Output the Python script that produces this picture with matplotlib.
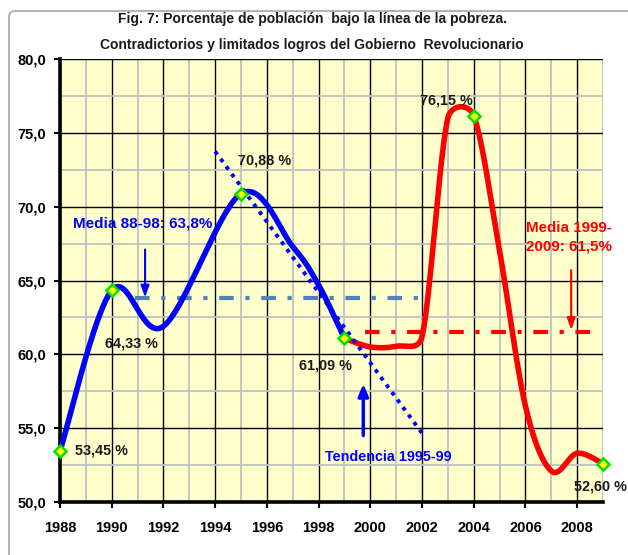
import numpy as np
import matplotlib
matplotlib.use('Agg')
import matplotlib.pyplot as plt
from matplotlib.ticker import MultipleLocator, FuncFormatter
from matplotlib.patches import FancyBboxPatch

plt.rcParams['font.family'] = ['Liberation Sans', 'DejaVu Sans']
plt.rcParams['font.weight'] = 'bold'

# poverty rate, % of population
anios_azul = [1988, 1990, 1992, 1995, 1997, 1998, 1999]
pobreza_azul = [53.45, 64.33, 61.9, 70.88, 67.3, 64.7, 61.09]
anios_rojo = [1999, 2000, 2001, 2002, 2003, 2004, 2005, 2006, 2007, 2008, 2009]
pobreza_rojo = [61.09, 60.5, 60.55, 61.2, 76.0, 76.15, 67.0, 56.5, 52.1, 53.3, 52.6]

# labelled points
marcas_azul = [1988, 1990, 1995, 1999]
marcas_rojo = [2004, 2009]
etiquetas = {1988: '53,45 %', 1990: '64,33 %', 1995: '70,88 %',
             1999: '61,09 %', 2004: '76,15 %', 2009: '52,60 %'}

media_88_98 = 63.8
media_99_09 = 61.5
tendencia_anios = [1995, 1997, 1998, 1999]

fig = plt.figure(figsize=(6.28, 5.55), dpi=100)
ax = fig.add_axes([60/628, 53/555, 543/628, 443/555])
ax.set_xlim(1988, 2009)
ax.set_ylim(50, 80)
ax.set_facecolor('#ffffcc')

# outer chart frame (right and bottom edges fall outside the image)
fig.patches.append(FancyBboxPatch((9/628, -0.1), 1.1, 1.1 - 11/555,
                                  boxstyle='round,pad=0,rounding_size=0.01',
                                  transform=fig.transFigure, fc='none',
                                  ec='#a6a6a6', lw=1.2))


def suavizar(xs, ys, n=40, tope=0.55):
    # catmull-rom bezier in pixel space, control arms capped on short segments
    p = ax.transData.transform(np.column_stack([xs, ys]).astype(float))
    out = []
    m = len(p)
    for i in range(m - 1):
        p0, p1, p2, p3 = p[max(i-1, 0)], p[i], p[i+1], p[min(i+2, m-1)]
        L = np.hypot(*(p2 - p1))
        a1 = (p2 - p0) / 6
        a2 = (p3 - p1) / 6
        n1, n2 = np.hypot(*a1), np.hypot(*a2)
        if n1 > tope * L:
            a1 = a1 * tope * L / n1
        if n2 > tope * L:
            a2 = a2 * tope * L / n2
        c1 = p1 + a1
        c2 = p2 - a2
        t = np.linspace(0, 1, n)[:, None]
        seg = (1-t)**3*p1 + 3*(1-t)**2*t*c1 + 3*(1-t)*t**2*c2 + t**3*p2
        out.append(seg if i == 0 else seg[1:])
    return ax.transData.inverted().transform(np.vstack(out))


# grid
ax.xaxis.set_major_locator(MultipleLocator(2))
ax.xaxis.set_minor_locator(MultipleLocator(1))
ax.yaxis.set_major_locator(MultipleLocator(5))
ax.yaxis.set_minor_locator(MultipleLocator(2.5))
ax.grid(which='minor', color='#c0c0c0', lw=1.3)
ax.grid(which='major', color='black', lw=1.0)
ax.set_axisbelow(True)

for s in ['top', 'right']:
    ax.spines[s].set_visible(False)
for s in ['left', 'bottom']:
    ax.spines[s].set_linewidth(2.6)
ax.tick_params(which='minor', length=0)
ax.tick_params(which='major', direction='out', length=4, width=1.5,
               labelsize=10.5)
ax.tick_params(axis='x', pad=10)
ax.tick_params(axis='y', pad=6)
ax.yaxis.set_major_formatter(FuncFormatter(lambda v, p: ('%.1f' % v).replace('.', ',')))

# averages
ax.plot([1990.9, 2002.05], [media_88_98]*2, color='#4f81bd', lw=3,
        ls=(0, (3.5, 2.8, 1, 2.8)), zorder=2)
ax.plot([1999.8, 2008.5], [media_99_09]*2, color='red', lw=3,
        ls=(0, (3.5, 2.8, 1, 2.8)), zorder=2)

# curves
cb = suavizar(anios_azul, pobreza_azul)
cr = suavizar(anios_rojo, pobreza_rojo)
ax.plot(cb[:, 0], cb[:, 1], color='#0000ff', lw=4, solid_capstyle='round', zorder=3)
ax.plot(cr[:, 0], cr[:, 1], color='#ff0000', lw=4, solid_capstyle='round', zorder=3)

# linear trend 1995-99
ty = [pobreza_azul[anios_azul.index(a)] for a in tendencia_anios]
k, b0 = np.polyfit(tendencia_anios, ty, 1)
tx = np.array([1994, 2002])
ax.plot(tx, k*tx + b0, color='#0000ff', lw=2.8, ls=(0, (1, 1.4)), zorder=4)

# markers
mb = [pobreza_azul[anios_azul.index(a)] for a in marcas_azul]
mr = [pobreza_rojo[anios_rojo.index(a)] for a in marcas_rojo]
ax.plot(marcas_azul + marcas_rojo, mb + mr, ls='none', marker='D', ms=6.5,
        mfc='#ffff00', mec='#00e000', mew=1.8, zorder=5, clip_on=False)

# point labels
pos = {1988: (1988.58, 53.5), 1990: (1989.74, 60.74), 1995: (1994.89, 73.16),
       1999: (1997.26, 59.27), 2004: (2001.93, 77.17), 2009: (2007.89, 51.02)}
for a, txt in etiquetas.items():
    ax.text(pos[a][0], pos[a][1], txt, ha='left', va='center', fontsize=10.4,
            fontweight='bold', color='#1a1a1a', clip_on=False, zorder=6)

ax.text(1988.51, 68.87, 'Media 88-98: 63,8%', color='#0000ff', fontsize=11,
        fontweight='bold', ha='left', va='center')
ax.text(1998.25, 53.06, 'Tendencia 1995-99', color='#0000ff', fontsize=10.4,
        fontweight='bold', ha='left', va='center', zorder=6)
ax.text(2006.01, 68.57, 'Media 1999-', color='#ff0000', fontsize=10.9,
        fontweight='bold', ha='left', va='center')
ax.text(2006.01, 67.28, '2009: 61,5%', color='#ff0000', fontsize=10.9,
        fontweight='bold', ha='left', va='center')

# arrows
ax.annotate('', xy=(1991.29, media_88_98 + 0.05), xytext=(1991.29, 67.1),
            arrowprops=dict(arrowstyle='-|>,head_length=0.7,head_width=0.25',
                            color='#0000ff', lw=1.5, shrinkA=0, shrinkB=0))
ax.annotate('', xy=(2007.77, media_99_09 + 0.15), xytext=(2007.77, 65.7),
            arrowprops=dict(arrowstyle='-|>,head_length=0.7,head_width=0.25',
                            color='#ff0000', lw=1.5, shrinkA=0, shrinkB=0))
ax.annotate('', xy=(1999.73, 58.0), xytext=(1999.73, 54.5),
            arrowprops=dict(arrowstyle='-|>,head_length=0.7,head_width=0.3',
                            color='#0000ff', lw=2.5, shrinkA=0, shrinkB=0))

fig.text(0.497, 0.966, 'Fig. 7: Porcentaje de población  bajo la línea de la pobreza.',
         ha='center', va='center', fontsize=10, fontweight='bold', color='#1a1a1a')
fig.text(0.497, 0.919, 'Contradictorios y limitados logros del Gobierno  Revolucionario',
         ha='center', va='center', fontsize=10, fontweight='bold', color='#1a1a1a')

fig.savefig('out.png', dpi=100)
